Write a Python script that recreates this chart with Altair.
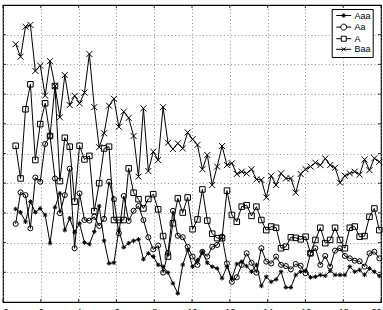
import altair as alt
import pandas as pd

# ---- data ----
series_names = ["Aaa", "Aa", "A", "Baa"]
x_start = 0.67
x_step = 0.26

aaa = [3.13, 3.02, 2.70, 3.38, 3.02, 3.15, 2.93, 1.98, 3.19, 3.66, 2.42, 2.82, 2.35, 2.65, 2.00, 1.95, 2.37, 3.23, 2.06, 1.30, 1.32, 2.42, 1.84, 1.98,
       2.06, 2.11, 1.44, 1.64, 1.53, 1.25, 1.19, 0.99, 0.63, 0.29, 1.25, 1.75, 1.19, 1.41, 1.69, 1.32, 1.19, 1.13, 0.80, 1.19, 0.80, 1.28, 1.36, 1.21,
       1.02, 1.25, 0.54, 0.85, 0.68, 0.76, 1.02, 0.49, 0.49, 0.91, 1.02, 1.05, 0.83, 0.85, 0.91, 0.88, 1.05, 0.91, 0.91, 0.91, 1.19, 1.02, 1.08, 0.91, 1.13, 1.02, 0.88]
aa = [2.63, 3.69, 3.60, 2.48, 4.19, 4.05, 5.32, 5.59, 4.16, 2.99, 3.60, 4.49, 1.81, 3.66, 2.76, 2.74, 2.87, 2.56, 2.80, 4.05, 3.46, 2.31, 3.57, 2.73,
      3.07, 3.23, 2.76, 2.18, 1.77, 1.90, 0.99, 1.65, 3.07, 2.23, 2.18, 1.86, 1.53, 1.25, 1.69, 1.53, 1.86, 1.92, 2.20, 1.30, 0.68, 0.83, 1.25, 1.64,
      1.32, 0.99, 1.81, 1.36, 1.30, 1.53, 1.25, 1.21, 1.10, 1.28, 1.22, 0.97, 1.64, 1.81, 1.25, 1.55, 1.19, 1.73, 1.81, 1.55, 1.47, 1.39, 1.37, 1.19, 1.64, 1.69, 1.47]
a = [5.26, 4.16, 6.49, 7.33, 4.78, 5.99, 6.69, 5.59, 7.27, 4.07, 5.53, 5.23, 3.38, 5.26, 4.80, 4.92, 3.06, 4.00, 5.17, 5.23, 2.76,
     2.76, 2.76, 4.50, 3.68, 3.46, 3.15, 3.47, 3.63, 3.12, 2.22, 1.53, 2.65, 3.49, 3.01, 3.52, 2.45, 2.78, 3.79, 2.74, 2.30, 2.15, 2.15, 3.75, 2.93, 2.70, 3.21, 3.26,
     2.90, 3.21, 2.76, 2.42, 2.54, 2.50, 1.81, 1.86, 2.18, 2.16, 2.11, 2.20, 1.64, 2.09, 2.50, 1.98, 2.09, 2.50, 2.09, 1.81, 2.50, 2.54, 2.20, 2.22, 2.87, 3.15, 2.42]
baa = [8.68, 8.26, 9.27, 9.33, 7.78, 7.96, 6.95, 8.11, 7.27, 6.22, 7.64, 6.63, 6.94, 6.69, 7.05, 8.35, 6.56, 5.21, 5.68, 6.61, 6.84, 5.90, 6.41, 6.20,
       5.59, 4.22, 6.52, 4.41, 5.06, 4.78, 6.56, 5.36, 5.15, 5.34, 5.17, 5.71, 5.48, 5.29, 4.47, 4.95, 3.94, 4.56, 5.25, 4.61, 4.67, 4.31, 4.39, 4.33,
       4.47, 4.13, 4.11, 3.52, 4.25, 3.94, 4.33, 4.16, 4.16, 3.68, 4.31, 4.47, 4.56, 4.69, 4.61, 4.83, 4.61, 4.52, 4.02, 4.25, 4.33, 4.39, 4.29, 4.80, 4.44, 4.84, 4.72]

x_ticks = [0, 2, 4, 6, 8, 10, 12, 14, 16, 18, 20]
y_ticks = [1, 2, 3, 4, 5, 6, 7, 8, 9]

# ---- build table ----
rows = []
for name, vals in zip(series_names, [aaa, aa, a, baa]):
    for i, v in enumerate(vals):
        rows.append({"t": round(x_start + i * x_step, 3), "v": v, "rating": name})
df = pd.DataFrame(rows)
xt = pd.DataFrame({"t": x_ticks})
yt = pd.DataFrame({"v": y_ticks})

FONT = "Liberation Sans"
W, H = 378, 297
LW = 1.0

xscale = alt.Scale(domain=[0, 20], nice=False, zero=False)
yscale = alt.Scale(domain=[0, 10], nice=False, zero=False)

x_enc = alt.X("t:Q", scale=xscale, axis=alt.Axis(
    values=x_ticks, grid=True, gridDash=[1, 2.5], gridColor="#777", gridWidth=0.8,
    ticks=False, domain=False, labelFontSize=9, labelFont=FONT, labelColor="black",
    labelPadding=5, title=None))
y_enc = alt.Y("v:Q", scale=yscale, axis=alt.Axis(
    values=y_ticks, grid=True, gridDash=[1, 2.5], gridColor="#777", gridWidth=0.8,
    ticks=False, domain=False, labels=False, title=None))

# marker shapes for the plot
marker_shapes = [
    "M-1,0L1,0M0,-1L0,1M-0.7,-0.7L0.7,0.7M-0.7,0.7L0.7,-0.7",
    "circle",
    "square",
    "M-1,-1L1,1M-1,1L1,-1",
]
marker_sizes = [20, 36, 25, 16]

# legend symbols: line segment with the marker in the middle
s = 1.48
legend_shapes = [
    f"M-0.52,0H3.48M{s},-0.6V0.6M{s-0.45},-0.45L{s+0.45},0.45M{s-0.45},0.45L{s+0.45},-0.45",
    f"M-0.52,0H{s-0.8}M{s+0.8},0H3.48M{s-0.8},0A0.8,0.8 0 1,1 {s+0.8},0A0.8,0.8 0 1,1 {s-0.8},0",
    f"M-0.52,0H{s-0.67}M{s+0.67},0H3.48M{s-0.67},-0.67H{s+0.67}V0.67H{s-0.67}Z",
    f"M-0.52,0H3.48M{s-0.53},-0.53L{s+0.53},0.53M{s-0.53},0.53L{s+0.53},-0.53",
]

base = alt.Chart(df)

lines = base.mark_line(color="black", strokeWidth=LW).encode(
    x=x_enc, y=y_enc, detail="rating:N", order="t:Q")

points = base.mark_point(color="black", strokeWidth=LW, filled=False, opacity=1).encode(
    x=x_enc, y=y_enc,
    shape=alt.Shape("rating:N", scale=alt.Scale(domain=series_names, range=marker_shapes), legend=None),
    size=alt.Size("rating:N", scale=alt.Scale(domain=series_names, range=marker_sizes), legend=None),
)

legend_layer = base.mark_point(color="black", strokeWidth=LW, filled=False, opacity=0).encode(
    x=x_enc, y=y_enc,
    shape=alt.Shape("rating:N", scale=alt.Scale(domain=series_names, range=legend_shapes),
                    legend=alt.Legend(title=None, orient="none", legendX=328.7, legendY=4,
                                      padding=2, strokeColor="black", fillColor="white",
                                      symbolSize=56, symbolStrokeWidth=LW, symbolStrokeColor="black",
                                      symbolOpacity=1, labelFontSize=9, labelFont=FONT,
                                      labelColor="black", labelOffset=11.8, rowPadding=0.6,
                                      labelExpr="datum.label + '    '")),
)

tick_len = 3
bottom_ticks = alt.Chart(xt).mark_rule(color="black", strokeWidth=0.8).encode(
    x=x_enc, y=alt.value(H), y2=alt.value(H - tick_len))
top_ticks = alt.Chart(xt).mark_rule(color="black", strokeWidth=0.8).encode(
    x=x_enc, y=alt.value(0), y2=alt.value(tick_len))
left_ticks = alt.Chart(yt).mark_rule(color="black", strokeWidth=0.8).encode(
    y=y_enc, x=alt.value(0), x2=alt.value(tick_len))
right_ticks = alt.Chart(yt).mark_rule(color="black", strokeWidth=0.8).encode(
    y=y_enc, x=alt.value(W), x2=alt.value(W - tick_len))

chart = alt.layer(
    bottom_ticks, top_ticks, left_ticks, right_ticks, lines, points, legend_layer
).resolve_scale(shape="independent", size="independent").properties(
    width=W, height=H, autosize="none",
    padding={"left": 3, "top": 5, "right": 2, "bottom": 8},
    background="white",
).configure_view(stroke="black", strokeWidth=1.2)

chart.save("out.html", embed_options={"renderer": "svg", "actions": False})
